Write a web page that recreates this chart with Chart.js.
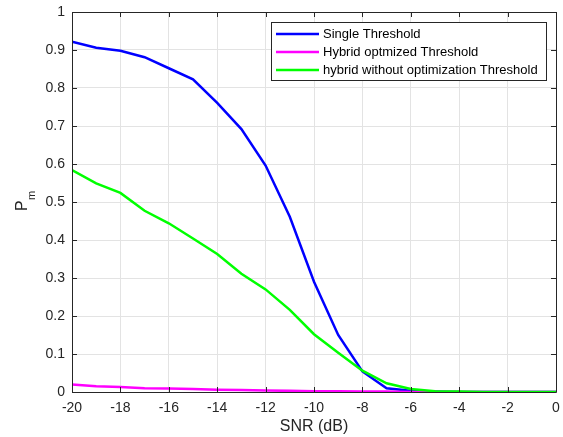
<!DOCTYPE html>
<html>
<head>
<meta charset="utf-8">
<script src="https://cdn.jsdelivr.net/npm/chart.js@4/dist/chart.umd.min.js"></script>
<style>
  html, body { margin: 0; padding: 0; background: #fff; }
  #wrap { width: 563px; height: 437px; }
</style>
</head>
<body>
<div id="wrap"><canvas id="pmChart"></canvas></div>
<script>
// SNR in dB
var snr = [-20, -19, -18, -17, -16, -15, -14, -13, -12, -11, -10, -9, -8, -7, -6, -5, -4, -3, -2, -1, 0];
// probability of miss for each detector
var singleTh    = [0.922, 0.906, 0.898, 0.881, 0.852, 0.823, 0.761, 0.692, 0.596, 0.461, 0.290, 0.150, 0.054, 0.010, 0.003, 0.001, 0, 0, 0, 0, 0];
var hybridOpt   = [0.020, 0.015, 0.013, 0.010, 0.009, 0.008, 0.006, 0.005, 0.004, 0.003, 0.002, 0.002, 0.001, 0.001, 0, 0, 0, 0, 0, 0, 0];
var hybridNoOpt = [0.584, 0.549, 0.524, 0.477, 0.444, 0.404, 0.363, 0.311, 0.270, 0.216, 0.152, 0.103, 0.056, 0.023, 0.008, 0.002, 0.001, 0, 0, 0, 0];
var seriesNames = ['Single Threshold', 'Hybrid optmized Threshold', 'hybrid without optimization Threshold'];
var xTicks = [-20, -18, -16, -14, -12, -10, -8, -6, -4, -2, 0];
var yTicks = [0, 0.1, 0.2, 0.3, 0.4, 0.5, 0.6, 0.7, 0.8, 0.9, 1];

var axisColor = '#262626';
var fontFam = '"Liberation Sans", Arial, sans-serif';

function pts(ys) {
    return snr.map(function (x, i) { return { x: x, y: ys[i] }; });
}

// box, inward ticks, axis titles and legend, drawn the matlab way
var matlabFrame = {
    id: 'matlabFrame',
    afterDraw: function (chart) {
        var c = chart.ctx, a = chart.chartArea;
        var xs = chart.scales.x, ys = chart.scales.y;
        c.save();
        c.strokeStyle = axisColor;
        c.lineWidth = 1;
        c.beginPath();
        c.rect(Math.round(a.left) + 0.5, Math.round(a.top) + 0.5, Math.round(a.right - a.left), Math.round(a.bottom - a.top));
        c.stroke();
        c.beginPath();
        xTicks.forEach(function (t) {
            var px = Math.round(xs.getPixelForValue(t)) + 0.5;
            c.moveTo(px, a.bottom); c.lineTo(px, a.bottom - 5);
            c.moveTo(px, a.top); c.lineTo(px, a.top + 5);
        });
        yTicks.forEach(function (t) {
            var py = Math.round(ys.getPixelForValue(t)) + 0.5;
            c.moveTo(a.left, py); c.lineTo(a.left + 5, py);
            c.moveTo(a.right, py); c.lineTo(a.right - 5, py);
        });
        c.stroke();

        // axis titles
        c.fillStyle = axisColor;
        c.font = '16px ' + fontFam;
        c.textAlign = 'center';
        c.textBaseline = 'middle';
        c.fillText('SNR (dB)', (a.left + a.right) / 2, 427);
        c.save();
        c.translate(23, 206);
        c.rotate(-Math.PI / 2);
        c.textAlign = 'left';
        c.fillText('P', -5, 0);
        c.font = '11px ' + fontFam;
        c.fillText('m', 6, 9);
        c.restore();

        // legend
        var lx = 271, ly = 22, lw = 275, lh = 58;
        c.fillStyle = '#fff';
        c.fillRect(lx, ly, lw, lh);
        c.strokeStyle = axisColor;
        c.lineWidth = 1;
        c.strokeRect(lx + 0.5, ly + 0.5, lw, lh);
        c.font = '13px ' + fontFam;
        c.textAlign = 'left';
        c.textBaseline = 'middle';
        chart.data.datasets.forEach(function (ds, i) {
            var yy = ly + 12 + i * 18;
            c.strokeStyle = ds.borderColor;
            c.lineWidth = 2.5;
            c.beginPath();
            c.moveTo(lx + 5, yy); c.lineTo(lx + 48, yy);
            c.stroke();
            c.fillStyle = '#000';
            c.fillText(ds.label, lx + 52, yy);
        });
        c.restore();
    }
};

var ctx = document.getElementById('pmChart').getContext('2d');
var pmChart = new Chart(ctx, {
    type: 'line',
    data: {
        datasets: [{
            label: seriesNames[0],
            data: pts(singleTh),
            borderColor: '#0000ff',
            borderWidth: 2.5,
            pointRadius: 0,
            order: 2
        }, {
            label: seriesNames[1],
            data: pts(hybridOpt),
            borderColor: '#ff00ff',
            borderWidth: 2.5,
            pointRadius: 0,
            order: 1
        }, {
            label: seriesNames[2],
            data: pts(hybridNoOpt),
            borderColor: '#00ff00',
            borderWidth: 2.5,
            pointRadius: 0,
            order: 0
        }]
    },
    options: {
        responsive: true,
        maintainAspectRatio: false,
        animation: false,
        layout: { padding: { top: 12, right: 7, left: 0, bottom: 0 } },
        plugins: {
            legend: { display: false },
            tooltip: { enabled: false }
        },
        scales: {
            x: {
                type: 'linear',
                min: -20,
                max: 0,
                afterFit: function (s) { s.height = 45; s.paddingLeft = 0; s.paddingRight = 0; },
                afterBuildTicks: function (s) { s.ticks = xTicks.map(function (v) { return { value: v }; }); },
                grid: { color: '#e3e3e3', drawTicks: false },
                border: { display: false },
                ticks: { color: axisColor, padding: 8, maxRotation: 0, font: { family: fontFam, size: 14 } }
            },
            y: {
                min: 0,
                max: 1,
                afterFit: function (s) { s.width = 72; s.paddingTop = 0; s.paddingBottom = 0; },
                afterBuildTicks: function (s) { s.ticks = yTicks.map(function (v) { return { value: v }; }); },
                grid: { color: '#e3e3e3', drawTicks: false },
                border: { display: false },
                ticks: {
                    color: axisColor,
                    padding: 7,
                    font: { family: fontFam, size: 14 },
                    callback: function (v) { return (v === 0 || v === 1) ? String(v) : v.toFixed(1); }
                }
            }
        }
    },
    plugins: [matlabFrame]
});
</script>
</body>
</html>
